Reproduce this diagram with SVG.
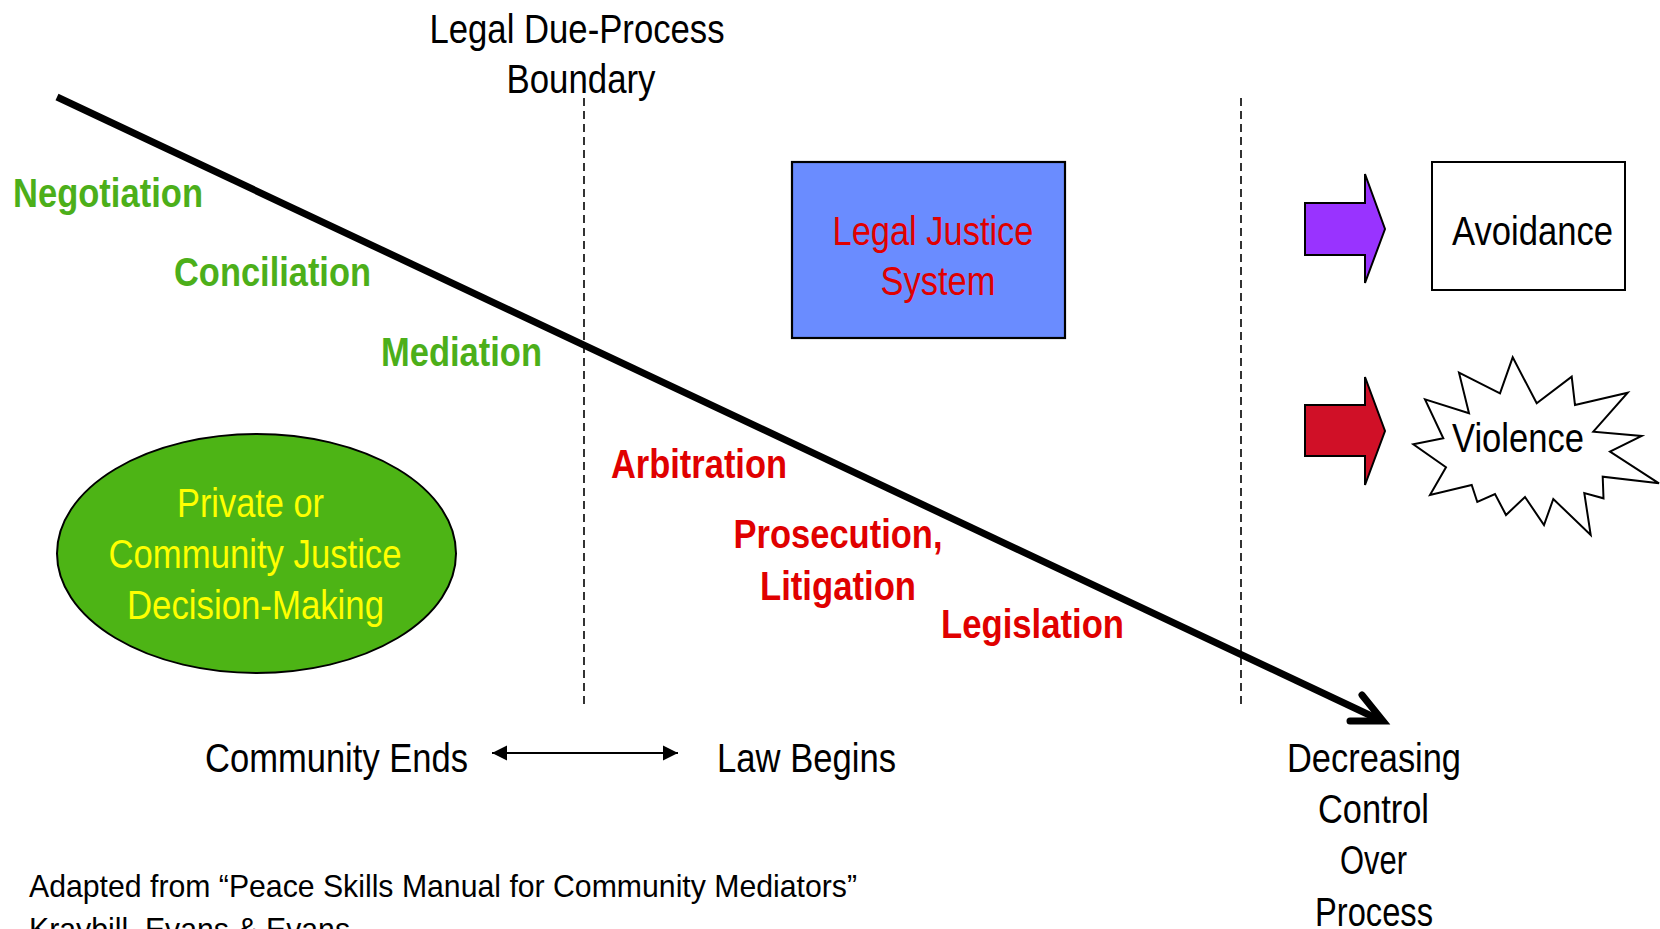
<svg xmlns="http://www.w3.org/2000/svg" width="1660" height="929" viewBox="0 0 1660 929">
<style>
text{font-family:"Liberation Sans Narrow","Arial Narrow","Liberation Sans",sans-serif;font-size:40px;fill:#000}
.g{fill:#4CAF1A;font-weight:bold}
.r{fill:#E00000;font-weight:bold}
.rn{fill:#E00000}
.y{fill:#FFFF00}
.m{text-anchor:middle}
.dash{stroke:#000;stroke-width:1.6;stroke-dasharray:8 5;fill:none}
.foot{font-size:32px}
</style>
<defs>
<marker id="ah" markerWidth="16" markerHeight="16" refX="15" refY="8" orient="auto-start-reverse" markerUnits="userSpaceOnUse" viewBox="0 0 16 16">
<path d="M0,0.5 L15,8 L0,15.5 Z" fill="#000"/>
</marker>
</defs>
<rect width="1660" height="929" fill="#fff"/>

<g id="connectors">
<line class="dash" x1="584" y1="98" x2="584" y2="706"/>
<line class="dash" x1="1241" y1="98" x2="1241" y2="706"/>
<line x1="57" y1="97" x2="1380" y2="720" stroke="#000" stroke-width="7"/>
<path d="M1362,695 L1383,721 L1350,721" fill="none" stroke="#000" stroke-width="7" stroke-linecap="round" stroke-linejoin="miter"/>
<line x1="492" y1="753" x2="678" y2="753" stroke="#000" stroke-width="2.2" marker-start="url(#ah)" marker-end="url(#ah)"/>
</g>

<g id="boundary-label">
<text class="m" x="577" y="43" textLength="295" lengthAdjust="spacingAndGlyphs">Legal Due-Process</text>
<text class="m" x="581" y="93" textLength="149" lengthAdjust="spacingAndGlyphs">Boundary</text>
</g>

<g id="negotiation"><text class="g" x="13" y="207" textLength="190" lengthAdjust="spacingAndGlyphs">Negotiation</text></g>
<g id="conciliation"><text class="g" x="174" y="286" textLength="197" lengthAdjust="spacingAndGlyphs">Conciliation</text></g>
<g id="mediation"><text class="g" x="381" y="366" textLength="161" lengthAdjust="spacingAndGlyphs">Mediation</text></g>
<g id="arbitration"><text class="r" x="611" y="478" textLength="176" lengthAdjust="spacingAndGlyphs">Arbitration</text></g>
<g id="prosecution">
<text class="r m" x="838" y="548" textLength="209" lengthAdjust="spacingAndGlyphs">Prosecution,</text>
<text class="r m" x="838" y="600" textLength="156" lengthAdjust="spacingAndGlyphs">Litigation</text>
</g>
<g id="legislation"><text class="r" x="941" y="638" textLength="183" lengthAdjust="spacingAndGlyphs">Legislation</text></g>

<g id="legal-justice">
<rect x="792" y="162" width="273" height="176" fill="#6A8CFF" stroke="#000" stroke-width="2.2"/>
<text class="rn m" x="933" y="245" textLength="201" lengthAdjust="spacingAndGlyphs">Legal Justice</text>
<text class="rn m" x="938" y="295" textLength="115" lengthAdjust="spacingAndGlyphs">System</text>
</g>

<g id="community-justice">
<ellipse cx="256.5" cy="553.5" rx="199.5" ry="119.5" fill="#4DB415" stroke="#000" stroke-width="2"/>
<text class="y m" x="250.5" y="517" textLength="147" lengthAdjust="spacingAndGlyphs">Private or</text>
<text class="y m" x="255" y="568" textLength="293" lengthAdjust="spacingAndGlyphs">Community Justice</text>
<text class="y m" x="255.5" y="619" textLength="257" lengthAdjust="spacingAndGlyphs">Decision-Making</text>
</g>

<g id="avoidance-arrow">
<path d="M1305,203 L1365,203 L1365,174 L1385,229 L1365,283 L1365,255 L1305,255 Z" fill="#9933FF" stroke="#000" stroke-width="2"/>
</g>
<g id="avoidance">
<rect x="1432" y="162" width="193" height="128" fill="#fff" stroke="#000" stroke-width="2"/>
<text x="1452" y="245" textLength="161" lengthAdjust="spacingAndGlyphs">Avoidance</text>
</g>

<g id="violence-arrow">
<path d="M1305,405 L1365,405 L1365,377 L1385,431 L1365,485 L1365,456 L1305,456 Z" fill="#D01027" stroke="#000" stroke-width="2"/>
</g>
<g id="violence">
<polygon points="1512.7,357.3 1536.7,403.3 1571.7,376.7 1575,405 1627.7,392.7 1593.3,431.7 1641.7,436 1610,451.7 1659,483.3 1602.7,476.7 1603.5,498.3 1584.3,493 1590.7,535 1553.3,499 1544,525 1525,497 1506,515 1495,494 1477.3,502 1471.7,485 1430,495 1446,467.3 1413.3,444.3 1443.3,438.3 1425,399.3 1469,413.3 1459,372.7 1500,393.3" fill="#fff" stroke="#000" stroke-width="2"/>
<text x="1452" y="452" textLength="132" lengthAdjust="spacingAndGlyphs">Violence</text>
</g>

<g id="community-ends"><text x="205" y="772" textLength="263" lengthAdjust="spacingAndGlyphs">Community Ends</text></g>
<g id="law-begins"><text x="717" y="772" textLength="179" lengthAdjust="spacingAndGlyphs">Law Begins</text></g>

<g id="decreasing-control">
<text class="m" x="1374" y="772" textLength="174" lengthAdjust="spacingAndGlyphs">Decreasing</text>
<text class="m" x="1373.5" y="823" textLength="111" lengthAdjust="spacingAndGlyphs">Control</text>
<text class="m" x="1373.5" y="874" textLength="67" lengthAdjust="spacingAndGlyphs">Over</text>
<text class="m" x="1374" y="926" textLength="118" lengthAdjust="spacingAndGlyphs">Process</text>
</g>

<g id="footer">
<text class="foot" x="29" y="897" textLength="828" lengthAdjust="spacingAndGlyphs">Adapted from “Peace Skills Manual for Community Mediators”</text>
<text class="foot" x="29" y="940" textLength="321" lengthAdjust="spacingAndGlyphs">Kraybill, Evans &amp; Evans</text>
</g>
</svg>
